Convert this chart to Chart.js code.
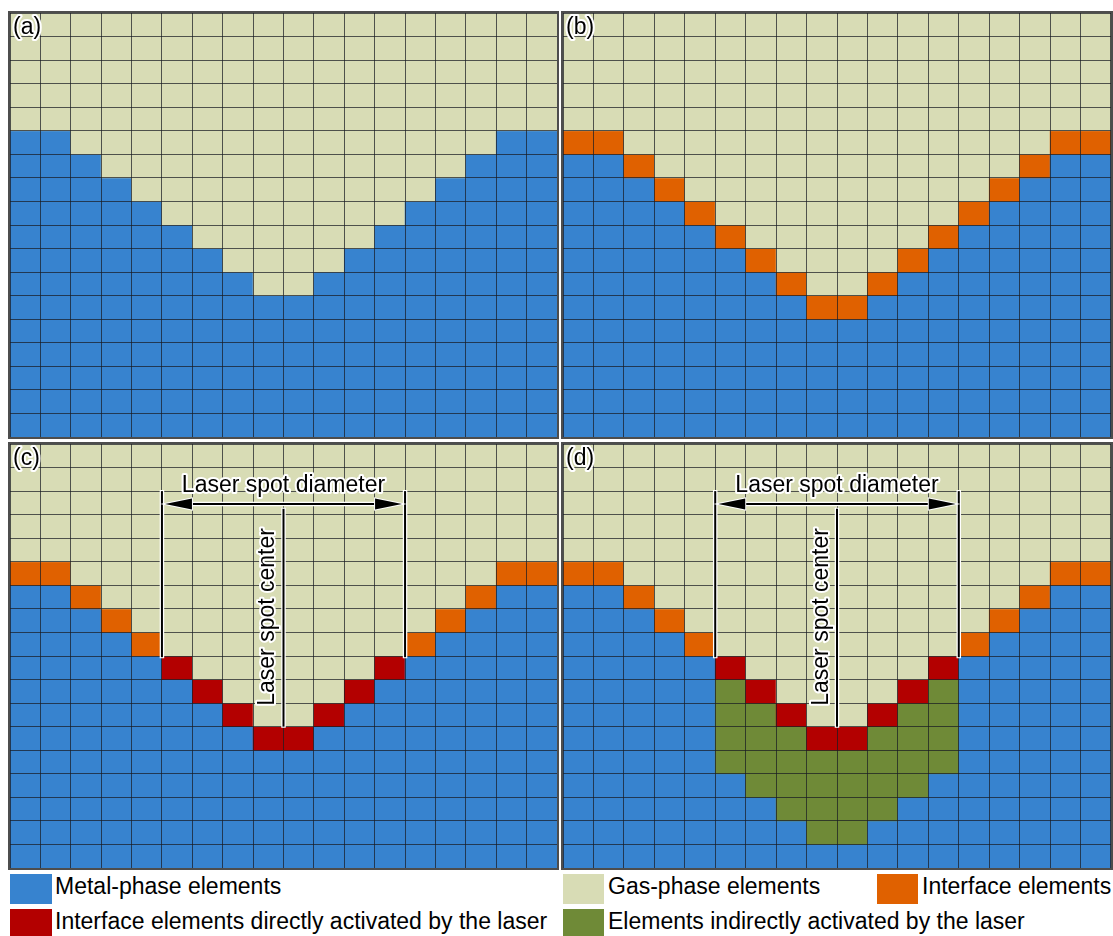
<!DOCTYPE html>
<html>
<head>
<meta charset="utf-8">
<script src="https://cdn.jsdelivr.net/npm/chart.js@4.4.1/dist/chart.umd.min.js"></script>
<style>
body { margin: 0; background: #fff; width: 1113px; height: 936px; overflow: hidden; position: relative; font-family: 'Liberation Sans', Arial, sans-serif; }
.panel { position: absolute; border: 2px solid #4d4d4d; }
.panel canvas { display: block; }
.sw { position: absolute; width: 41px; height: 30px; }
.lt { position: absolute; font-size: 23px; line-height: 30px; color: #000; white-space: nowrap; }
</style>
</head>
<body>
<div class="panel" style="left:8px;top:11px"><canvas id="pa" width="547" height="424"></canvas></div>
<div class="panel" style="left:561px;top:11px"><canvas id="pb" width="548" height="424"></canvas></div>
<div class="panel" style="left:8px;top:442px"><canvas id="pc" width="547" height="424"></canvas></div>
<div class="panel" style="left:561px;top:442px"><canvas id="pd" width="548" height="424"></canvas></div>

<div class="sw" style="left:10px;top:874px;width:42px;background:#3783cf"></div>
<div class="lt" style="left:55px;top:871px">Metal-phase elements</div>
<div class="sw" style="left:10px;top:909px;width:42px;background:#b30000"></div>
<div class="lt" style="left:55px;top:906px">Interface elements directly activated by the laser</div>
<div class="sw" style="left:563px;top:874px;background:#d8dcb5"></div>
<div class="lt" style="left:608px;top:871px">Gas-phase elements</div>
<div class="sw" style="left:877px;top:874px;background:#e06100"></div>
<div class="lt" style="left:922px;top:871px">Interface elements</div>
<div class="sw" style="left:563px;top:909px;background:#6f8a37"></div>
<div class="lt" style="left:608px;top:906px">Elements indirectly activated by the laser</div>

<script>
// grid columns and the height of one cell in every row
const columns = ['1', '2', '3', '4', '5', '6', '7', '8', '9', '10', '11', '12', '13', '14', '15', '16', '17', '18'];
const cellHeight = [1, 1, 1, 1, 1, 1, 1, 1, 1, 1, 1, 1, 1, 1, 1, 1, 1, 1];
const rowCount = 18;

// first non-gas row of each column (the keyhole profile)
const surfaceRow = [5, 5, 6, 7, 8, 9, 10, 11, 12, 12, 11, 10, 9, 8, 7, 6, 5, 5];
// columns inside the laser spot (first, last)
const laserCols = [5, 12];
// last row of indirectly activated elements in each column (panel d)
const indirectLastRow = [null, null, null, null, null, 13, 14, 15, 16, 16, 15, 14, 13, null, null, null, null, null];

// annotation positions, in grid units
const spotEdges = [5, 13];
const spotEdgeRows = [2, 9.05];
const arrowRow = 2.55;
const centerCol = 9;
const centerRows = [2.75, 12];
const diameterTextRow = 2.05;
const centerTextCol = 8.69;
const centerTextRow = 7.34;

const colors = {
    metal: '#3783cf',
    gas: '#d8dcb5',
    iface: '#e06100',
    direct: '#b30000',
    indirect: '#6f8a37'
};

function cellType(panel, r, c) {
    const s = surfaceRow[c];
    if (r < s) return 'gas';
    if (r === s) {
        if (panel === 'a') return 'metal';
        if (panel === 'b') return 'iface';
        return (c >= laserCols[0] && c <= laserCols[1]) ? 'direct' : 'iface';
    }
    if (panel === 'd' && indirectLastRow[c] !== null && r <= indirectLastRow[c]) return 'indirect';
    return 'metal';
}

function haloText(ctx, text, x, y) {
    ctx.lineJoin = 'round';
    ctx.strokeStyle = '#fff';
    ctx.lineWidth = 4;
    ctx.strokeText(text, x, y);
    ctx.fillStyle = '#000';
    ctx.fillText(text, x, y);
}

function haloLine(ctx, x1, y1, x2, y2) {
    ctx.lineCap = 'butt';
    ctx.strokeStyle = '#fff';
    ctx.lineWidth = 4.5;
    ctx.beginPath(); ctx.moveTo(x1, y1 - 1); ctx.lineTo(x2, y2 + 1); ctx.stroke();
    ctx.strokeStyle = '#000';
    ctx.lineWidth = 2;
    ctx.beginPath(); ctx.moveTo(x1, y1); ctx.lineTo(x2, y2); ctx.stroke();
}

function arrowHead(ctx, tipX, y, dir) {
    const len = 27, half = 5.5;
    ctx.beginPath();
    ctx.moveTo(tipX, y);
    ctx.lineTo(tipX + dir * len, y - half);
    ctx.lineTo(tipX + dir * len, y + half);
    ctx.closePath();
    ctx.lineJoin = 'miter';
    ctx.strokeStyle = '#fff';
    ctx.lineWidth = 2;
    ctx.stroke();
    ctx.fillStyle = '#000';
    ctx.fill();
}

const overlay = {
    id: 'overlay',
    afterDraw(chart, args, opts) {
        const ctx = chart.ctx;
        const xs = chart.scales.x, ys = chart.scales.y;
        const half = (xs.getPixelForValue(1) - xs.getPixelForValue(0)) / 2;
        const colX = c => xs.getPixelForValue(0) - half + c * 2 * half;
        const rowY = r => ys.getPixelForValue(r);
        ctx.save();
        ctx.font = '23px "Liberation Sans", Arial, sans-serif';
        ctx.textBaseline = 'alphabetic';
        ctx.textAlign = 'left';
        haloText(ctx, opts.label, chart.chartArea.left + 3, chart.chartArea.top + 21);

        if (opts.spot) {
            const xl = colX(spotEdges[0]), xr = colX(spotEdges[1]);
            haloLine(ctx, xl, rowY(spotEdgeRows[0]), xl, rowY(spotEdgeRows[1]));
            haloLine(ctx, xr, rowY(spotEdgeRows[0]), xr, rowY(spotEdgeRows[1]));
            const ya = rowY(arrowRow);
            // arrow shaft
            ctx.strokeStyle = '#fff';
            ctx.lineWidth = 4.5;
            ctx.beginPath(); ctx.moveTo(xl + 20, ya); ctx.lineTo(xr - 20, ya); ctx.stroke();
            ctx.strokeStyle = '#000';
            ctx.lineWidth = 2;
            ctx.beginPath(); ctx.moveTo(xl + 20, ya); ctx.lineTo(xr - 20, ya); ctx.stroke();
            arrowHead(ctx, xl + 3, ya, 1);
            arrowHead(ctx, xr - 3, ya, -1);
            const xc = colX(centerCol);
            haloLine(ctx, xc, rowY(centerRows[0]), xc, rowY(centerRows[1]));

            ctx.textAlign = 'center';
            haloText(ctx, 'Laser spot diameter', xc, rowY(diameterTextRow));
            ctx.save();
            ctx.translate(colX(centerTextCol), rowY(centerTextRow));
            ctx.rotate(-Math.PI / 2);
            haloText(ctx, 'Laser spot center', 0, 0);
            ctx.restore();
        }
        ctx.restore();
    }
};

function makePanel(canvasId, panel, label, spot) {
    const datasets = [];
    for (let r = 0; r < rowCount; r++) {
        datasets.push({
            label: 'row ' + (r + 1),
            data: cellHeight,
            backgroundColor: columns.map((_, c) => colors[cellType(panel, r, c)]),
            borderWidth: 0,
            categoryPercentage: 1,
            barPercentage: 1
        });
    }
    const gridColor = 'rgba(25, 28, 35, 0.72)';
    new Chart(document.getElementById(canvasId).getContext('2d'), {
        type: 'bar',
        data: { labels: columns, datasets: datasets },
        options: {
            responsive: false,
            animation: false,
            events: [],
            layout: { padding: 0 },
            scales: {
                x: {
                    stacked: true,
                    offset: true,
                    grid: { offset: true, color: gridColor, lineWidth: 1, z: 1, drawTicks: false },
                    ticks: { display: false, autoSkip: false },
                    border: { display: false }
                },
                y: {
                    stacked: true,
                    reverse: true,
                    min: 0,
                    max: 18,
                    grid: { color: gridColor, lineWidth: 1, z: 1, drawTicks: false },
                    ticks: { display: false, stepSize: 1, maxTicksLimit: 100 },
                    border: { display: false }
                }
            },
            plugins: {
                legend: { display: false },
                tooltip: { enabled: false },
                overlay: { label: label, spot: spot }
            }
        },
        plugins: [overlay]
    });
}

makePanel('pa', 'a', '(a)', false);
makePanel('pb', 'b', '(b)', false);
makePanel('pc', 'c', '(c)', true);
makePanel('pd', 'd', '(d)', true);
</script>
</body>
</html>
